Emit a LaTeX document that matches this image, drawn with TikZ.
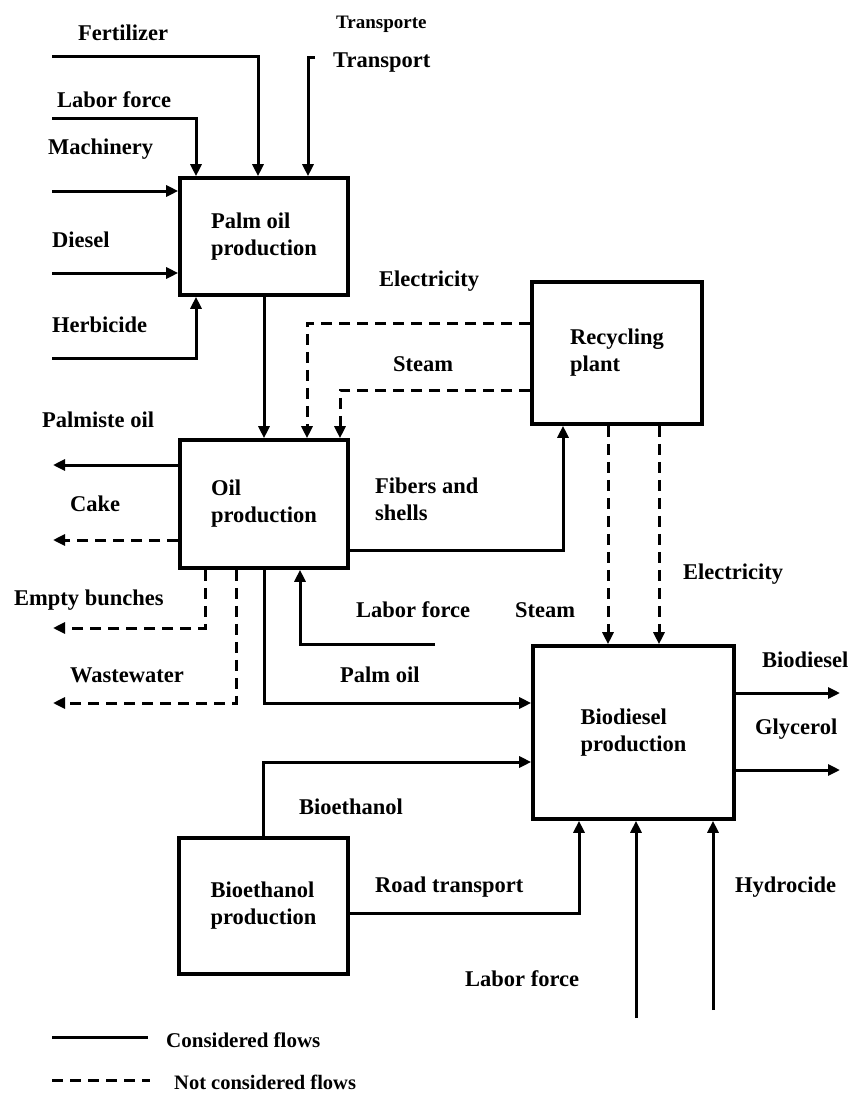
\documentclass[tikz,border=0pt]{standalone}
\usepackage{fontspec}
\setmainfont{Liberation Serif}
\usetikzlibrary{arrows.meta}

\begin{document}
\begin{tikzpicture}[x=1pt,y=-1pt,>={Triangle[length=12pt,width=11pt]},
  font=\bfseries\fontsize{22.5}{27}\selectfont,
  box/.style={draw,line width=3.6pt,align=left,inner sep=0pt},
  flow/.style={line width=3pt},
  nc/.style={flow,dash pattern=on 11pt off 7pt},
  lbl/.style={anchor=west,inner sep=0pt,text height=15pt,text depth=0pt}]
\useasboundingbox (0,0) rectangle (852,1093);
\node[box,minimum width=168pt,minimum height=117pt] (palm) at (264,236.5) {Palm oil\\production};
\node[box,minimum width=168pt,minimum height=128pt] (oil) at (264,504) {Oil\\production};
\node[box,minimum width=170pt,minimum height=142pt] (rec) at (617,353) {Recycling\\plant};
\node[box,minimum width=201pt,minimum height=173pt] (bio) at (633.5,732.5) {Biodiesel\\production};
\node[box,minimum width=169pt,minimum height=136pt] (eth) at (263.5,906) {Bioethanol\\production};
\node[lbl,font=\bfseries\fontsize{19}{23}\selectfont] (transporte) at (336,21) {Transporte};
\node[lbl] (fert) at (78,33) {Fertilizer};
\node[lbl] (transp) at (333,60) {Transport};
\node[lbl] (labor) at (57,100) {Labor force};
\node[lbl] (mach) at (48,147) {Machinery};
\node[lbl] (diesel) at (52,240) {Diesel};
\node[lbl] (herb) at (52,325) {Herbicide};
\node[lbl] (elec) at (379,279) {Electricity};
\node[lbl] (steam) at (393,364) {Steam};
\node[lbl] (palmiste) at (42,420) {Palmiste oil};
\node[lbl] (cake) at (70,504) {Cake};
\node[anchor=west,inner sep=0pt,align=left] (fibers) at (375,499) {Fibers and\\shells};
\node[lbl] (bunches) at (14,598) {Empty bunches};
\node[lbl] (laborb) at (356,610) {Labor force};
\node[lbl] (steamb) at (515,610) {Steam};
\node[lbl] (elecb) at (683,572) {Electricity};
\node[lbl] (waste) at (70,675) {Wastewater};
\node[lbl] (palmoil) at (340,675) {Palm oil};
\node[lbl] (biod) at (762,660) {Biodiesel};
\node[lbl] (glyc) at (755,727) {Glycerol};
\node[lbl] (bioeth) at (299,807) {Bioethanol};
\node[lbl] (road) at (375,885) {Road transport};
\node[lbl] (hydro) at (735,885) {Hydrocide};
\node[lbl] (laborc) at (465,979) {Labor force};
\node[lbl,font=\bfseries\fontsize{21}{25}\selectfont] (keysolid) at (166,1040) {Considered flows};
\node[lbl,font=\bfseries\fontsize{20.5}{25}\selectfont] (keydash) at (174,1082) {Not considered flows};
\coordinate (fertin) at (52,56);
\coordinate (laborin) at (52,118);
\coordinate (transpin) at (315,57);
\coordinate (machin) at (52,191);
\coordinate (dieselin) at (52,273);
\coordinate (herbin) at (52,358);
\coordinate (palmisteout) at (53,465);
\coordinate (cakeout) at (53,540);
\coordinate (bunchout) at (53,628);
\coordinate (wasteout) at (53,703);
\coordinate (laborinb) at (435,644);
\coordinate (biodout) at (840,693);
\coordinate (glycout) at (840,770);
\coordinate (laborinc) at (636,1018);
\coordinate (hydroin) at (713,1010);
\coordinate (solidkey) at (52,1037);
\coordinate (dashkey) at (52,1080);
\draw[flow,->] (fertin) -| ([xshift=-6pt]palm.north);
\draw[flow,->] (laborin) -| ([xshift=-68pt]palm.north);
\draw[flow,->] (transpin) -| ([xshift=44pt]palm.north);
\draw[flow,->] (machin) -- (machin -| palm.west);
\draw[flow,->] (dieselin) -- (dieselin -| palm.west);
\draw[flow,->] (herbin) -| ([xshift=-68pt]palm.south);
\draw[flow,->] (palm.south) -- (oil.north);
\draw[nc,->] ([yshift=30pt]rec.west) -| ([xshift=43pt]oil.north);
\draw[nc,->] ([yshift=-37pt]rec.west) -| ([xshift=76pt]oil.north);
\draw[flow,->] ([yshift=-46pt]oil.east) -| ([xshift=-54pt]rec.south);
\draw[flow,->] ([yshift=39pt]oil.west) -- (palmisteout);
\draw[nc,->] ([yshift=-36pt]oil.west) -- (cakeout);
\draw[nc,->] ([xshift=-59pt]oil.south) |- (bunchout);
\draw[nc,->] ([xshift=-28pt]oil.south) |- (wasteout);
\draw[flow,->] (laborinb) -| ([xshift=36pt]oil.south);
\draw[flow,->] (oil.south) |- ([yshift=29.5pt]bio.west);
\draw[nc,->] ([xshift=-9pt]rec.south) -- ([xshift=-25.5pt]bio.north);
\draw[nc,->] ([xshift=42pt]rec.south) -- ([xshift=25.5pt]bio.north);
\draw[flow,->] ([yshift=39.5pt]bio.east) -- (biodout);
\draw[flow,->] ([yshift=-37.5pt]bio.east) -- (glycout);
\draw[flow,->] (eth.north) |- ([yshift=-29.5pt]bio.west);
\draw[flow,->] ([yshift=-7pt]eth.east) -| ([xshift=-54.5pt]bio.south);
\draw[flow,->] (laborinc) -- (laborinc |- bio.south);
\draw[flow,->] (hydroin) -- (hydroin |- bio.south);
\draw[flow] (solidkey) -- ([xshift=-18pt]keysolid.west |- solidkey);
\draw[nc] (dashkey) -- ([xshift=-24pt]keydash.west |- dashkey);
\end{tikzpicture}
\end{document}
